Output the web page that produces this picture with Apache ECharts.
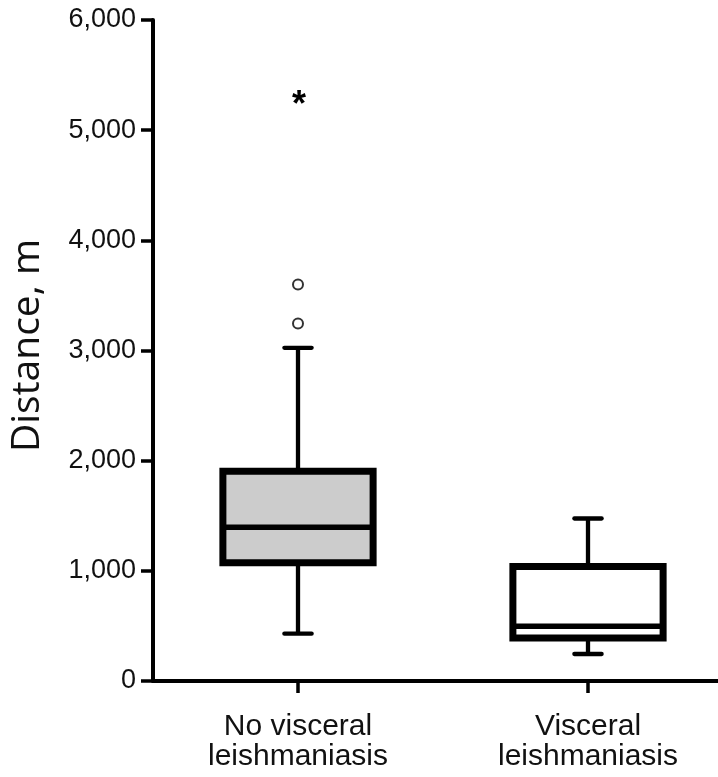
<!DOCTYPE html>
<html>
<head>
<meta charset="utf-8">
<script src="https://cdn.jsdelivr.net/npm/echarts@6/dist/echarts.min.js"></script>
<style>html,body{margin:0;padding:0;background:#fff}#c{width:718px;height:777px}</style>
</head>
<body>
<div id="c"></div>
<script>
// ---- data ----
const categories = ['No visceral\nleishmaniasis', 'Visceral\nleishmaniasis'];
// [min whisker, Q1, median, Q3, max whisker]
const boxNoVL = [430, 1073, 1396, 1904, 3024];
const boxVL = [245, 390, 497, 1039, 1475];
const boxFills = ['#cccccc', '#ffffff'];
const outlierCircles = [[0, 3600], [0, 3246]];
const outlierStars = [[0, 5286]];
const yTickLabels = ['0', '1,000', '2,000', '3,000', '4,000', '5,000', '6,000'];
const yAxisName = 'Distance, m';

const boxes = [boxNoVL, boxVL];
const boxData = boxes.map((b, i) => [i].concat(b));

const chart = echarts.init(document.getElementById('c'), null, {renderer: 'canvas'});
const ink = '#000';

function renderBox(params, api) {
  const idx = api.value(0);
  const band = api.size([1, 0])[0];
  const bw = band * 0.518;
  const capW = band * 0.094;
  const pMin = api.coord([idx, api.value(1)]);
  const pQ1 = api.coord([idx, api.value(2)]);
  const pMed = api.coord([idx, api.value(3)]);
  const pQ3 = api.coord([idx, api.value(4)]);
  const pMax = api.coord([idx, api.value(5)]);
  const cx = pMed[0];
  const lineStyle = {stroke: ink, lineWidth: 4.3};
  return {
    type: 'group',
    children: [
      {type: 'line', shape: {x1: cx, y1: pQ3[1], x2: cx, y2: pMax[1]}, style: lineStyle},
      {type: 'line', shape: {x1: cx, y1: pQ1[1], x2: cx, y2: pMin[1]}, style: lineStyle},
      {type: 'line', shape: {x1: cx - capW / 2, y1: pMax[1], x2: cx + capW / 2, y2: pMax[1]}, style: {stroke: ink, lineWidth: 4.3, lineCap: 'round'}},
      {type: 'line', shape: {x1: cx - capW / 2, y1: pMin[1], x2: cx + capW / 2, y2: pMin[1]}, style: {stroke: ink, lineWidth: 4.3, lineCap: 'round'}},
      {type: 'rect', shape: {x: cx - bw / 2, y: pQ3[1], width: bw, height: pQ1[1] - pQ3[1]},
        style: {fill: boxFills[idx], stroke: ink, lineWidth: 7}},
      {type: 'line', shape: {x1: cx - bw / 2, y1: pMed[1], x2: cx + bw / 2, y2: pMed[1]}, style: {stroke: ink, lineWidth: 5.5}}
    ]
  };
}

function renderStar(params, api) {
  const p = api.coord([api.value(0), api.value(1)]);
  return {
    type: 'text',
    style: {
      text: '*', x: p[0] + 1, y: p[1] + 7,
      fill: ink, font: 'bold 36px "Liberation Sans", Arial, sans-serif',
      align: 'center', verticalAlign: 'middle'
    }
  };
}

chart.setOption({
  animation: false,
  backgroundColor: '#fff',
  grid: {left: 153, top: 20, bottom: 96, width: 580, containLabel: false, outerBoundsMode: 'none'},
  xAxis: {
    type: 'category',
    data: categories,
    boundaryGap: true,
    axisLine: {show: true, lineStyle: {color: ink, width: 4}},
    axisTick: {show: true, alignWithLabel: true, length: 12, lineStyle: {color: ink, width: 3.5}},
    axisLabel: {
      margin: 31, color: '#111', fontSize: 30, lineHeight: 30,
      fontFamily: '"Liberation Sans", Arial, sans-serif', interval: 0
    },
    splitLine: {show: false}
  },
  yAxis: {
    type: 'value',
    min: 0, max: 6000, interval: 1000,
    name: yAxisName,
    nameLocation: 'middle',
    nameGap: 106,
    nameTextStyle: {fontSize: 39, color: '#111', fontFamily: '"Open Sans", "Noto Sans", sans-serif', padding: [0, 0, 0, 10]},
    axisLine: {show: true, lineStyle: {color: ink, width: 4}},
    axisTick: {show: true, length: 12, lineStyle: {color: ink, width: 3.5}},
    axisLabel: {
      margin: 17, color: '#111', fontSize: 27,
      fontFamily: '"Liberation Sans", Arial, sans-serif',
      formatter: (v) => yTickLabels[Math.round(v / 1000)]
    },
    splitLine: {show: false}
  },
  series: [
    {
      type: 'custom',
      renderItem: renderBox,
      data: boxData,
      encode: {x: 0, y: [1, 2, 3, 4, 5]},
      z: 3
    },
    {
      type: 'scatter',
      data: outlierCircles,
      symbol: 'emptyCircle',
      symbolSize: 10,
      itemStyle: {color: ink, borderColor: ink, borderWidth: 2.5},
      z: 4
    },
    {
      type: 'custom',
      renderItem: renderStar,
      data: outlierStars,
      encode: {x: 0, y: 1},
      z: 4
    }
  ]
});
</script>
</body>
</html>
